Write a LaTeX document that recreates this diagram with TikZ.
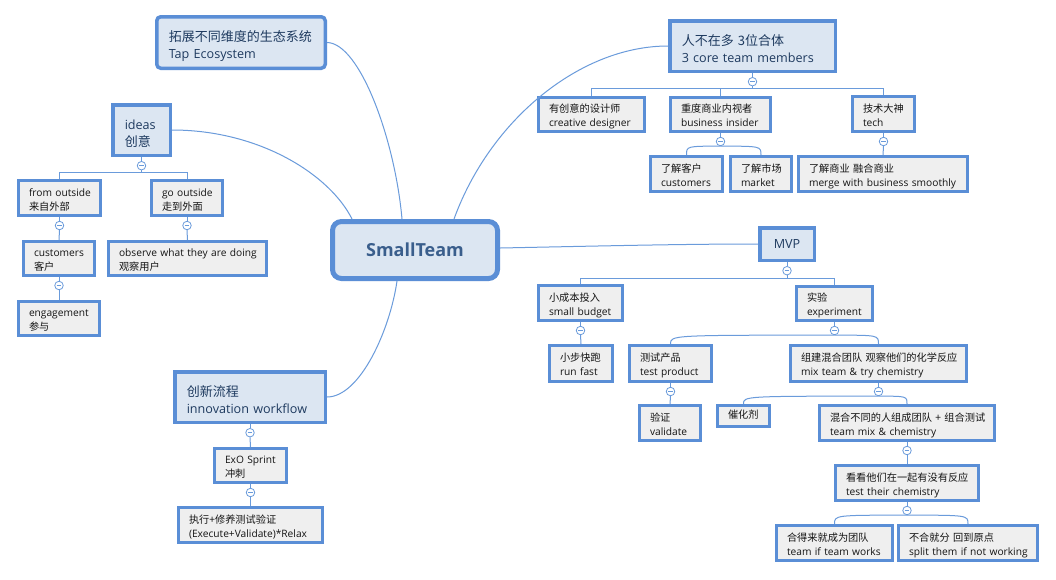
\documentclass[tikz,border=0pt]{standalone}
\usepackage{fontspec}
\setmainfont{Open Sans}
\newfontfamily\cjk{Noto Sans CJK SC}
\newfontfamily\cjkm[Scale=1.032]{Noto Sans CJK SC}
\newcommand\cj[1]{\mbox{\cjk #1}}
\newcommand\cm[1]{\mbox{\cjkm #1}}
\definecolor{bord}{HTML}{5A8ED6}
\definecolor{connc}{HTML}{6A9BDB}
\definecolor{mainfill}{HTML}{DCE6F2}
\definecolor{subfill}{HTML}{EFEFEF}
\definecolor{maintext}{HTML}{1E3A5F}
\definecolor{subtext}{HTML}{141414}
\definecolor{centtext}{HTML}{3A5E8C}
\tikzset{
  sub/.style={draw=bord, line width=3pt, fill=subfill, text=subtext, align=left,
    inner xsep=10.5pt, inner ysep=1pt, font=\fontsize{10.2}{14}\selectfont,
    text height=11.5pt, text depth=15.5pt},
  subone/.style={sub, text height=7.5pt, text depth=2.5pt},
  maintopic/.style={draw=bord, line width=3.5pt, fill=mainfill, text=maintext, align=left,
    inner xsep=12pt, inner ysep=1pt, font=\fontsize{12.6}{17}\selectfont,
    text height=13.5pt, text depth=15.5pt},
  central/.style={draw=bord, line width=5pt, fill=mainfill, text=centtext,
    rounded corners=9pt, inner sep=0pt, font=\fontsize{18}{22}\selectfont\bfseries},
  conn/.style={draw=connc, line width=1pt},
  coll/.style={circle, draw=connc, fill=white, line width=0.8pt, minimum size=8.5pt, inner sep=0pt,
    path picture={\draw[connc, line width=0.8pt] ([xshift=-2.3pt]path picture bounding box.center) -- ([xshift=2.3pt]path picture bounding box.center);}},
}
\begin{document}
\begin{tikzpicture}[x=1pt,y=-1pt]
\fill[white] (0,0) rectangle (1056,579);
\useasboundingbox (0,0) rectangle (1056,579);

% central
\node[central, minimum width=165pt, minimum height=57pt] (cent) at (415,250) {SmallTeam};

% main topics
\node[maintopic, rounded corners=4pt, text width=144.5pt, minimum height=51.5pt] (tap) at (241,42.5) {\cm{拓展不同维度的生态系统}\\\mbox{Tap Ecosystem}};
\node[maintopic, text width=33.5pt, minimum height=50.5pt] (ideas) at (141.5,130) {\mbox{ideas}\\\cm{创意}};
\node[maintopic, text width=126.5pt, minimum height=50.5pt] (innov) at (250,397) {\cm{创新流程}\\\mbox{innovation workflow}};
\node[maintopic, text width=141.5pt, minimum height=50.5pt] (core) at (752.5,46) {\cm{人不在多 3位合体}\\\mbox{3 core team members}};
\node[maintopic, align=center, minimum width=54.5pt, minimum height=32.5pt, inner xsep=0pt, text height=9pt, text depth=0pt] (mvp) at (787,244) {MVP};

% left subtopics
\node[sub, text width=61pt, minimum height=35pt] (fromout) at (59.5,198) {\mbox{from outside}\\\cj{来自外部}};
\node[sub, text width=50pt, minimum height=35pt] (goout) at (187,198) {\mbox{go outside}\\\cj{走到外面}};
\node[sub, text width=50pt, minimum height=34pt] (cust) at (59,258.5) {\mbox{customers}\\\cj{客户}};
\node[sub, text width=137pt, minimum height=34pt] (observe) at (187.5,258.5) {\mbox{observe what they are doing}\\\cj{观察用户}};
\node[sub, text width=60pt, minimum height=34pt] (engage) at (59,318.5) {\mbox{engagement}\\\cj{参与}};
\node[sub, text width=51pt, minimum height=34pt] (exo) at (250.5,465.5) {\mbox{ExO Sprint}\\\cj{冲刺}};
\node[sub, text width=123pt, minimum height=35pt] (exec) at (250.5,525) {\cj{执行+修养测试验证}\\\mbox{(Execute+Validate)*Relax}};

% right subtopics
\node[sub, text width=85pt, minimum height=34pt] (creative) at (591.5,114.5) {\cj{有创意的设计师}\\\mbox{creative designer}};
\node[sub, text width=79pt, minimum height=34pt] (biz) at (720.5,114.5) {\cj{重度商业内视者}\\\mbox{business insider}};
\node[sub, text width=41pt, minimum height=35pt] (tech) at (883.5,114) {\cj{技术大神}\\\mbox{tech}};
\node[sub, text width=51pt, minimum height=35pt] (kcust) at (686.5,174) {\cj{了解客户}\\\mbox{customers}};
\node[sub, text width=40pt, minimum height=35pt] (market) at (761,174) {\cj{了解市场}\\\mbox{market}};
\node[sub, text width=148pt, minimum height=35pt] (merge) at (883,174) {\cj{了解商业 融合商业}\\\mbox{merge with business smoothly}};
\node[sub, text width=63pt, minimum height=35pt] (budget) at (580.5,303) {\cj{小成本投入}\\\mbox{small budget}};
\node[sub, text width=55pt, minimum height=34pt] (exper) at (834.5,303.5) {\cj{实验}\\\mbox{experiment}};
\node[sub, text width=42pt, minimum height=36pt] (runfast) at (581,363.5) {\cj{小步快跑}\\\mbox{run fast}};
\node[sub, text width=61pt, minimum height=36pt] (testprod) at (670.5,363.5) {\cj{测试产品}\\\mbox{test product}};
\node[sub, text width=155pt, minimum height=36pt] (mixteam) at (878.5,363.5) {\cj{组建混合团队 观察他们的化学反应}\\\mbox{mix team \& try chemistry}};
\node[sub, text width=40pt, minimum height=35pt] (validate) at (670,423) {\cj{验证}\\\mbox{validate}};
\node[subone, text width=31pt, minimum height=21pt] (catalyst) at (743.5,416) {\cj{催化剂}};
\node[sub, text width=154pt, minimum height=35pt] (teammix) at (907,423) {\cj{混合不同的人组成团队 + 组合测试}\\\mbox{team mix \& chemistry}};
\node[sub, text width=122pt, minimum height=35pt] (testchem) at (907,483) {\cj{看看他们在一起有没有反应}\\\mbox{test their chemistry}};
\node[sub, text width=95pt, minimum height=35pt] (teamif) at (834.5,543) {\cj{合得来就成为团队}\\\mbox{team if team works}};
\node[sub, text width=118pt, minimum height=35pt] (split) at (968,543) {\cj{不合就分 回到原点}\\\mbox{split them if not working}};

% central connectors
\draw[conn] (tap.east) .. controls (360,43) and (395,140) .. ([xshift=-13pt]cent.north);
\draw[conn] (ideas.east) .. controls (260,130) and (330,175) .. ([xshift=-63pt]cent.north);
\draw[conn] (core.west) .. controls (580,46) and (490,120) .. ([xshift=39pt]cent.north);
\draw[conn] ([yshift=2pt]cent.east) .. controls (600,246) and (680,244) .. (mvp.west);
\draw[conn] (innov.east) .. controls (360,397) and (390,330) .. ([xshift=-18pt]cent.south);

% collapse circles
\node[coll] (c-ideas) at ([yshift=-8.7pt]ideas.south) {};
\node[coll] (c-innov) at ([yshift=-8.7pt]innov.south) {};
\node[coll] (c-core) at ([yshift=-8.7pt]core.south) {};
\node[coll] (c-mvp) at ([yshift=-8.7pt]mvp.south) {};
\node[coll] (c-fromout) at ([yshift=-8.5pt]fromout.south) {};
\node[coll] (c-goout) at ([yshift=-8.5pt]goout.south) {};
\node[coll] (c-cust) at ([yshift=-8.5pt]cust.south) {};
\node[coll] (c-exo) at ([yshift=-8.5pt]exo.south) {};
\node[coll] (c-biz) at ([yshift=-8.5pt]biz.south) {};
\node[coll] (c-tech) at ([yshift=-8.5pt]tech.south) {};
\node[coll] (c-budget) at ([yshift=-8.5pt]budget.south) {};
\node[coll] (c-exper) at ([yshift=-8.5pt]exper.south) {};
\node[coll] (c-testprod) at ([yshift=-8.5pt]testprod.south) {};
\node[coll] (c-mixteam) at ([yshift=-8.5pt]mixteam.south) {};
\node[coll] (c-teammix) at ([yshift=-8.5pt]teammix.south) {};
\node[coll] (c-testchem) at ([yshift=-8.5pt]testchem.south) {};

% parent to circle stubs
\foreach \p in {ideas,innov,core,mvp,fromout,goout,cust,exo,biz,tech,budget,exper,testprod,mixteam,teammix,testchem}
  \draw[conn] (\p.south) -- (c-\p.north);

% bars
\coordinate (b-ideas) at ([yshift=-2pt]c-ideas.south);
\draw[conn] (c-ideas.south) -- (b-ideas);
\draw[conn] (fromout.north) |- (b-ideas) -| (goout.north);

\coordinate (b-core) at ([yshift=-2pt]c-core.south);
\draw[conn] (c-core.south) -- (b-core);
\draw[conn] (creative.north) |- (b-core) -| (tech.north);
\draw[conn] (biz.north) -- (biz.north |- b-core);

\coordinate (b-mvp) at ([yshift=-3pt]c-mvp.south);
\draw[conn] (c-mvp.south) -- (b-mvp);
\draw[conn] (budget.north) |- (b-mvp) -| (exper.north);

% single straight children
\draw[conn] (c-fromout.south) -- (cust.north);
\draw[conn] (c-goout.south) -- (observe.north);
\draw[conn] (c-cust.south) -- (engage.north);
\draw[conn] (c-innov.south) -- (exo.north);
\draw[conn] (c-exo.south) -- (exec.north);
\draw[conn] (c-tech.south) -- (merge.north);
\draw[conn] (c-budget.south) -- (runfast.north);
\draw[conn] (c-testprod.south) -- (validate.north);
\draw[conn] (c-teammix.south) -- (testchem.north);

% curved children
\draw[conn] (c-biz.south) .. controls (kcust.north |- c-biz.south) .. (kcust.north);
\draw[conn] (c-biz.south) .. controls (market.north |- c-biz.south) .. (market.north);
\draw[conn] (c-exper.south) .. controls (testprod.north |- c-exper.south) .. (testprod.north);
\draw[conn] (c-exper.south) .. controls (mixteam.north |- c-exper.south) .. (mixteam.north);
\draw[conn] (c-mixteam.south) .. controls (catalyst.north |- c-mixteam.south) .. (catalyst.north);
\draw[conn] (c-mixteam.south) .. controls (teammix.north |- c-mixteam.south) .. (teammix.north);
\draw[conn] (c-testchem.south) .. controls (teamif.north |- c-testchem.south) .. (teamif.north);
\draw[conn] (c-testchem.south) .. controls (split.north |- c-testchem.south) .. (split.north);
\end{tikzpicture}
\end{document}
